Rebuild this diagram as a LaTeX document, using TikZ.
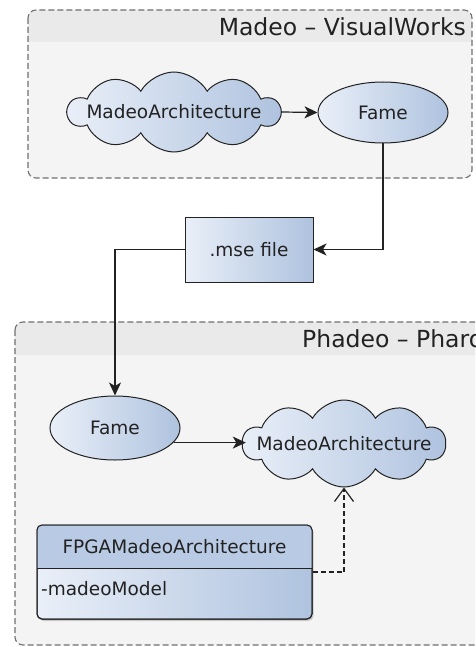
\documentclass[tikz,border=0pt]{standalone}
\usepackage{fontspec}
\setmainfont{DejaVu Sans}
\usetikzlibrary{shapes.symbols,shapes.geometric,arrows.meta,shadows}
\definecolor{bL}{HTML}{E9EFF8}
\definecolor{bD}{HTML}{AFC3DF}
\definecolor{hdr}{HTML}{B9CBE4}
\definecolor{pane}{HTML}{F4F4F4}
\definecolor{band}{HTML}{EAEAEA}
\definecolor{ink}{HTML}{222222}
\definecolor{dashc}{HTML}{707070}
\tikzset{
  nodefont/.style={font=\fontsize{18.5}{21}\selectfont, text=ink},
  container/.style={draw=dashc, line width=1.1pt, dash pattern=on 6pt off 3pt, rounded corners=8pt},
  blue fill/.style={left color=bL, right color=bD, draw=ink, line width=1pt},
  cloudnode/.style={cloud, cloud puffs=10, cloud puff arc=120, cloud ignores aspect, blue fill, inner sep=0pt},
  ellnode/.style={ellipse, blue fill, inner sep=0pt, minimum width=130pt, minimum height=61pt},
  conn/.style={draw=ink, line width=1.2pt},
  tip/.style={-{Stealth[length=13pt,width=12pt,inset=3.5pt]}},
  titlefont/.style={font=\fontsize{23.5}{27}\selectfont, text=ink, inner sep=0pt}
}
\begin{document}
\begin{tikzpicture}[x=1pt,y=-1pt]
\useasboundingbox (0,0) rectangle (475,647);
\clip (0,0) rectangle (475,647);
\fill[white] (0,0) rectangle (475,647);
% top container
\fill[pane, rounded corners=8pt] (28,10) rectangle (472,178);
\fill[band] (28,42) {[rounded corners=8pt] -- (28,10) -- (472,10)} -- (472,42) -- cycle;
\draw[container] (28,10) rectangle (472,178);
\node[titlefont, anchor=base east] (t1) at (466,36) {Madeo – VisualWorks};
% bottom container
\fill[pane, rounded corners=8pt] (15,322) rectangle (530,645);
\fill[band] (15,355) {[rounded corners=8pt] -- (15,322) -- (530,322)} -- (530,355) -- cycle;
\draw[container] (15,322) rectangle (530,645);
\node[titlefont, anchor=base west] (t2) at (302,347) {Phadeo – Pharo};
% nodes top
\node[cloudnode, minimum width=212pt, minimum height=80pt] (c1) at (174,112) {};
\node[nodefont] (c1t) at (c1.center) {MadeoArchitecture};
\node[ellnode, nodefont] (f1) at (383,112.5) {Fame};
\node[rectangle, blue fill, nodefont, minimum width=128pt, minimum height=65pt, inner sep=0pt] (mse) at (249,249.5) {.mse file};
% nodes bottom
\node[ellnode, nodefont, minimum height=64pt] (f2) at (115,428) {Fame};
\node[cloudnode, minimum width=203pt, minimum height=87pt] (c2) at (344,443.5) {};
\node[nodefont] (c2t) at (c2.center) {MadeoArchitecture};
% class
\node[rectangle, rounded corners=5pt, blue fill, minimum width=275pt, minimum height=94pt, inner sep=0pt,
      drop shadow={shadow xshift=1.5pt, shadow yshift=-2pt, opacity=0.35}] (cls) at (174.5,572) {};
\fill[hdr] (37,568) {[rounded corners=5pt] -- (37,525) -- (312,525)} -- (312,568) -- cycle;
\draw[ink, line width=1pt, rounded corners=5pt] (37,525) rectangle (312,619);
\draw[ink, line width=1pt] (37,568) -- (312,568);
\node[nodefont] (clsname) at (174.5,547) {FPGAMadeoArchitecture};
\node[nodefont, anchor=west, inner sep=0pt] (attr) at (41,589) {-madeoModel};
% connectors
\draw[conn, tip] (c1.east) -- (f1.west);
\draw[conn, tip] (f1.south) |- (mse.east);
\draw[conn, tip] (mse.west) -| (f2.north);
\draw[conn, tip] (f2.-14.6) -- ([xshift=4pt]c2.west |- f2.-14.6);
\draw[conn, dash pattern=on 5pt off 3pt, -{Straight Barb[length=13pt,width=19pt]}] (cls.east) -| (c2.south);
\end{tikzpicture}
\end{document}
